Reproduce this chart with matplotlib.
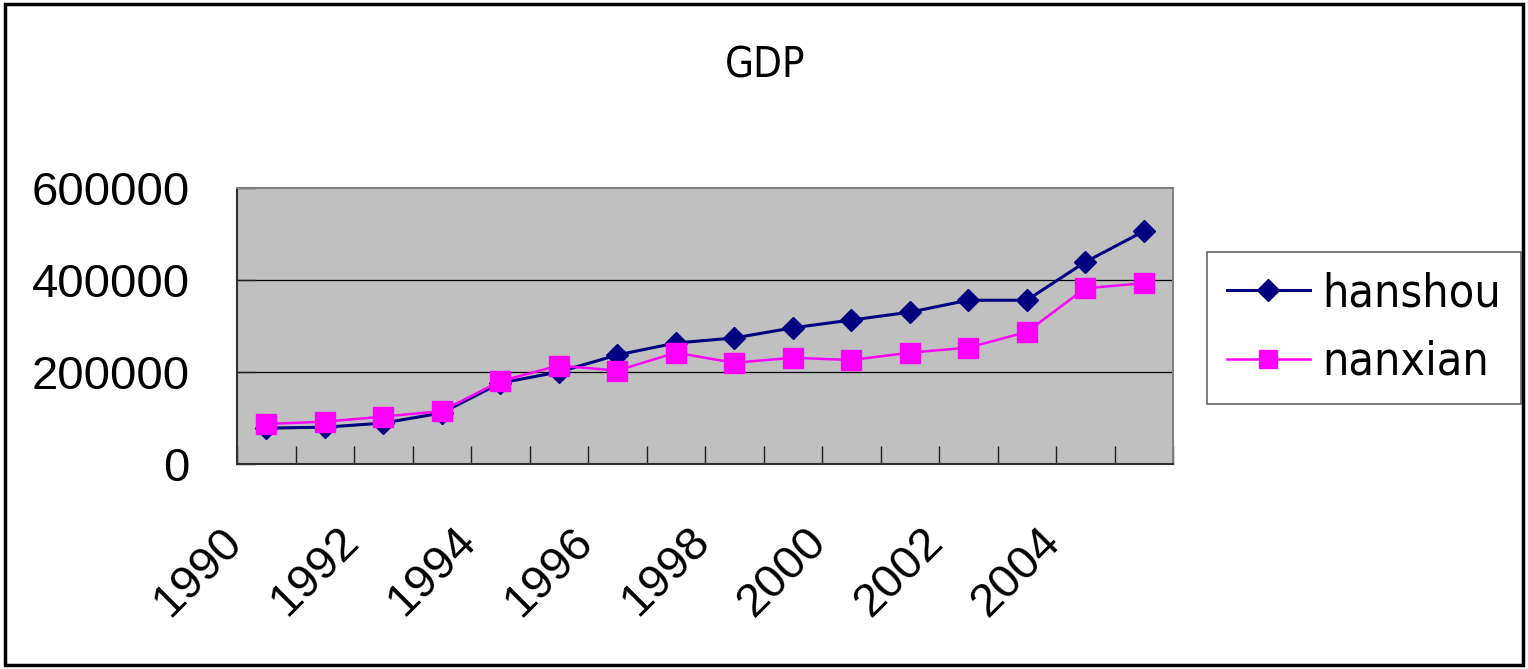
import numpy as np
import matplotlib
matplotlib.use("Agg")
import matplotlib.pyplot as plt
import matplotlib.transforms as mtransforms
from matplotlib.patches import Rectangle

# data
years = list(range(1990, 2006))
hanshou = [78000, 80000, 89000, 111000, 176000, 200000, 237000, 263000,
           274000, 296000, 313000, 330000, 356000, 356000, 439000, 506000]
nanxian = [87000, 92000, 103000, 115000, 180000, 214000, 203000, 242000,
           220000, 231000, 226000, 242000, 253000, 287000, 382000, 393000]
year_labels = ["1990", "1992", "1994", "1996", "1998", "2000", "2002", "2004"]
y_ticks = [0, 200000, 400000, 600000]

W, H = 1528, 669
fig = plt.figure(figsize=(W / 100, H / 100), dpi=100)

plt.rcParams["font.family"] = ["Liberation Sans", "DejaVu Sans"]
narrow = ["DejaVu Sans", "Liberation Sans"]

# plot area in pixels of the reference
left, right, top, bottom = 237, 1173, 188, 464
ax = fig.add_axes([left / W, 1 - bottom / H, (right - left) / W, (bottom - top) / H])
ax.set_facecolor("#c0c0c0")

x = np.arange(len(years))
ax.plot(x, hanshou, color="#000080", lw=2.2, marker="D", ms=11.5,
        mfc="#000080", mec="#000080", label="hanshou", zorder=3)
ax.plot(x, nanxian, color="#ff00ff", lw=1.8, marker="s", ms=14,
        mfc="#ff00ff", mec="#ff00ff", label="nanxian", zorder=4)

ax.set_xlim(-0.5, len(years) - 0.5)
ax.set_ylim(0, 600000)
ax.set_yticks(y_ticks)
ax.set_yticklabels([str(v) for v in y_ticks], fontsize=34)
for v in y_ticks[1:-1]:
    ax.axhline(v, color="black", lw=0.9, zorder=1)

ax.set_xticks(np.arange(-0.5, len(years), 1.0))
ax.set_xticklabels([])
ax.tick_params(axis="x", direction="in", length=13, width=1, color="#202020")
ax.tick_params(axis="y", direction="in", length=13, width=1, color="#202020", pad=34)

# rotated category labels sit at every second category boundary
trans = mtransforms.blended_transform_factory(ax.transData, ax.transAxes)
for i, lab in enumerate(year_labels):
    ax.text(2 * i - 0.5 - 0.3, -0.2, lab, transform=trans, rotation=45,
            rotation_mode="anchor", ha="right", va="top", fontsize=34)

for s in ["top", "right"]:
    ax.spines[s].set_color("#808080")
    ax.spines[s].set_linewidth(1.5)
for s in ["left", "bottom"]:
    ax.spines[s].set_color("#303030")
    ax.spines[s].set_linewidth(1.5)

fig.text(765 / W, 1 - 66 / H, "GDP", ha="center", va="center",
         fontsize=30, family=narrow, stretch="condensed")

leg = fig.legend(loc="upper left", bbox_to_anchor=(1207 / W, 1 - 252 / H),
                 prop={"family": narrow, "size": 33.5, "stretch": "condensed"},
                 frameon=True, fancybox=False, borderpad=0.42,
                 handlelength=1.8, handletextpad=0.26, labelspacing=0.5,
                 borderaxespad=0, markerscale=0.95)
leg.get_frame().set_edgecolor("#404040")
leg.get_frame().set_linewidth(1.2)

# outer chart border
fig.patches.append(Rectangle((5 / W, 4 / H), 1518 / W, 661 / H,
                             transform=fig.transFigure, fill=False,
                             edgecolor="black", lw=2.5))

fig.savefig("out.png", dpi=100)
